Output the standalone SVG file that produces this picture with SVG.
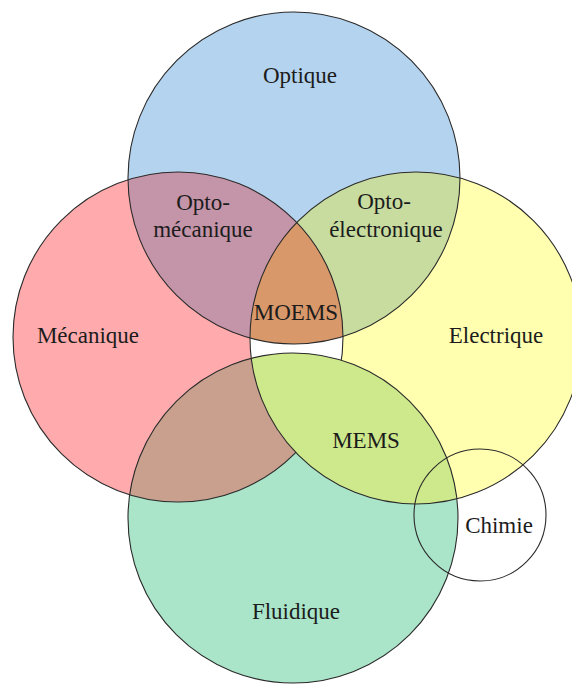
<svg xmlns="http://www.w3.org/2000/svg" width="572" height="684" viewBox="0 0 572 684">
<style>
.lbl{font-family:"Liberation Serif","Times New Roman",serif;font-size:23px;fill:#1c1c1c;text-anchor:middle}
.edge{fill:none;stroke:#2a2a2a;stroke-width:1.1}
</style>
<defs>
<clipPath id="cOpt"><circle cx="294" cy="178" r="166"/></clipPath>
<clipPath id="cMec"><circle cx="178" cy="337" r="165"/></clipPath>
<clipPath id="cElec"><circle cx="416" cy="338" r="166"/></clipPath>
<clipPath id="cFlu"><circle cx="293" cy="518" r="165"/></clipPath>
</defs>
<rect width="572" height="684" fill="#ffffff"/>
<g id="fills">
<circle cx="294" cy="178" r="166" fill="#b4d3ee"/>
<circle cx="178" cy="337" r="165" fill="#ffabad"/>
<circle cx="416" cy="338" r="166" fill="#ffffaf"/>
<circle cx="293" cy="518" r="165" fill="#aae5ca"/>
</g>
<g id="mec-elec">
<circle cx="416" cy="338" r="166" fill="#ffffff" clip-path="url(#cMec)"/>
</g>
<g id="opto-mecanique">
<circle cx="294" cy="178" r="166" fill="#c494a8" clip-path="url(#cMec)"/>
</g>
<g id="opto-electronique">
<circle cx="294" cy="178" r="166" fill="#c8dca0" clip-path="url(#cElec)"/>
</g>
<g id="moems">
<g clip-path="url(#cElec)"><circle cx="294" cy="178" r="166" fill="#d8986a" clip-path="url(#cMec)"/></g>
</g>
<g id="mec-fluid">
<circle cx="293" cy="518" r="165" fill="#c9a08e" clip-path="url(#cMec)"/>
</g>
<g id="optique"><circle class="edge" cx="294" cy="178" r="166"/></g>
<g id="mecanique"><circle class="edge" cx="178" cy="337" r="165"/></g>
<g id="mems">
<circle cx="293" cy="518" r="165" fill="#cde98b" clip-path="url(#cElec)"/>
</g>
<g id="electrique"><circle class="edge" cx="416" cy="338" r="166"/></g>
<g id="fluidique"><circle class="edge" cx="293" cy="518" r="165"/></g>
<g id="chimie"><circle class="edge" cx="480" cy="515" r="66"/></g>
<g id="connectors"></g>
<g id="labels">
<text class="lbl" x="300" y="83">Optique</text>
<text class="lbl" x="88" y="343">Mécanique</text>
<text class="lbl" x="496" y="343">Electrique</text>
<text class="lbl" x="203" y="210">Opto-</text>
<text class="lbl" x="203" y="237">mécanique</text>
<text class="lbl" x="384" y="209">Opto-</text>
<text class="lbl" x="386" y="237">électronique</text>
<text class="lbl" x="296" y="320">MOEMS</text>
<text class="lbl" x="366" y="448">MEMS</text>
<text class="lbl" x="499" y="533">Chimie</text>
<text class="lbl" x="296" y="619">Fluidique</text>
</g>
</svg>
